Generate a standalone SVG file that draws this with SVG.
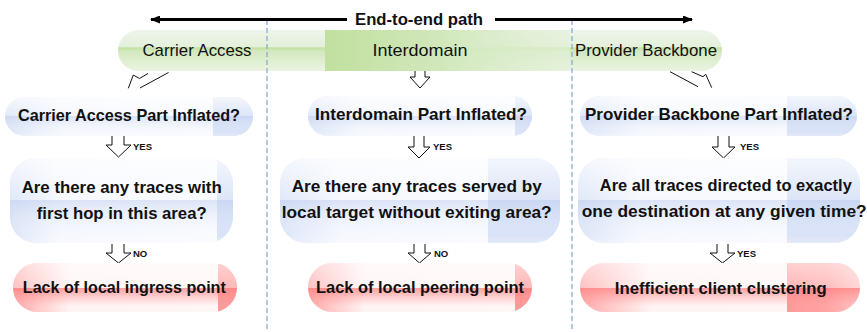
<svg xmlns="http://www.w3.org/2000/svg" width="867" height="332" viewBox="0 0 867 332">
<style>
text{font-family:"Liberation Sans",Arial,sans-serif;fill:#111;text-anchor:middle}
.b{font-weight:bold;font-size:17px}
.r{font-size:17px}
.t{font-weight:bold;font-size:16.5px}
.s{font-weight:bold;font-size:9.5px;text-anchor:start}
.arr{fill:#fff;stroke:#111;stroke-width:1}
.ln{fill:none;stroke:#111;stroke-width:1}
.sep{stroke:#7fa8d2;stroke-width:1.2;stroke-dasharray:5 3}
.blue{fill:url(#gBlueH)}
.red{fill:url(#gRedH)}
.bd{fill:#d0dcf5}
.rd{fill:#ff9a9a}
.bg{fill:url(#gBlueV)}
.rg{fill:url(#gRedV)}
</style>
<defs>
<linearGradient id="gBlueH" x1="0" y1="0" x2="1" y2="0">
<stop offset="0" stop-color="#d5e0f6"/><stop offset="0.22" stop-color="#f3f6fd"/><stop offset="1" stop-color="#f8faff"/>
</linearGradient>
<linearGradient id="gBlueV" x1="0" y1="0" x2="0" y2="1">
<stop offset="0" stop-color="#fff" stop-opacity="0.75"/><stop offset="0.5" stop-color="#fff" stop-opacity="0.25"/>
<stop offset="0.5" stop-color="#c6d4f1" stop-opacity="0.55"/><stop offset="0.9" stop-color="#fff" stop-opacity="0.2"/><stop offset="1" stop-color="#fff" stop-opacity="0.4"/>
</linearGradient>
<linearGradient id="gRedH" x1="0" y1="0" x2="1" y2="0">
<stop offset="0" stop-color="#ffa8a8"/><stop offset="0.25" stop-color="#fff3f3"/><stop offset="1" stop-color="#fff6f6"/>
</linearGradient>
<linearGradient id="gRedV" x1="0" y1="0" x2="0" y2="1">
<stop offset="0" stop-color="#fff" stop-opacity="0.55"/><stop offset="0.5" stop-color="#fff" stop-opacity="0.3"/>
<stop offset="0.5" stop-color="#ff7f7f" stop-opacity="0.75"/><stop offset="0.88" stop-color="#ff9a9a" stop-opacity="0"/><stop offset="1" stop-color="#fff" stop-opacity="0"/>
</linearGradient>
<linearGradient id="gBarV" x1="0" y1="0" x2="0" y2="1">
<stop offset="0" stop-color="#eef5ea"/><stop offset="0.42" stop-color="#e3f0da"/><stop offset="0.43" stop-color="#c2e1a1"/>
<stop offset="0.52" stop-color="#d3e9bf"/><stop offset="1" stop-color="#ebf4e3"/>
</linearGradient>
<linearGradient id="gBarMid" x1="0" y1="0" x2="1" y2="0">
<stop offset="0" stop-color="#c1e09e"/><stop offset="0.5" stop-color="#d2e8bd"/><stop offset="1" stop-color="#e4f1da" stop-opacity="0.6"/>
</linearGradient>
<linearGradient id="gR3" x1="0" y1="0" x2="1" y2="0">
<stop offset="0" stop-color="#ff9a9a"/><stop offset="0.55" stop-color="#ffa3a3"/><stop offset="1" stop-color="#ffc4c4"/>
</linearGradient>
<marker id="ah" viewBox="0 0 10 8" refX="9" refY="4" markerWidth="10" markerHeight="8" markerUnits="userSpaceOnUse" orient="auto">
<path d="M0,0 L10,4 L0,8 Z" fill="#000"/>
</marker>
<clipPath id="cA1"><rect x="5" y="97" width="248" height="39" rx="19.5"/></clipPath>
<clipPath id="cA2"><rect x="308" y="96" width="224" height="40" rx="20"/></clipPath>
<clipPath id="cA3"><rect x="580" y="96" width="277" height="40" rx="20"/></clipPath>
<clipPath id="cQ1"><rect x="10" y="158" width="223" height="85" rx="26"/></clipPath>
<clipPath id="cQ2"><rect x="280" y="158" width="280" height="85" rx="26"/></clipPath>
<clipPath id="cQ3"><rect x="578" y="158" width="282" height="85" rx="26"/></clipPath>
<clipPath id="cR1"><rect x="13" y="263" width="224" height="49" rx="24.5"/></clipPath>
<clipPath id="cR2"><rect x="308" y="263" width="224" height="49" rx="24.5"/></clipPath>
<clipPath id="cR3"><rect x="580" y="263" width="280" height="49" rx="24.5"/></clipPath>
</defs>

<g id="path-bar">
<rect x="118" y="30" width="604" height="41" rx="20.5" fill="url(#gBarV)"/>
<rect x="325" y="30" width="245" height="41" fill="url(#gBarMid)"/>
<text class="r" x="197" y="56" textLength="109" lengthAdjust="spacingAndGlyphs">Carrier Access</text>
<text class="r" x="420" y="56" textLength="95" lengthAdjust="spacingAndGlyphs">Interdomain</text>
<text class="r" x="646" y="56" textLength="142" lengthAdjust="spacingAndGlyphs">Provider Backbone</text>
</g>

<g id="separators">
<line class="sep" x1="267" y1="20" x2="267" y2="332"/>
<line class="sep" x1="572" y1="20" x2="572" y2="332"/>
</g>

<g id="title">
<text class="t" x="419" y="25" textLength="128" lengthAdjust="spacingAndGlyphs">End-to-end path</text>
</g>

<g id="connectors">
<line x1="347" y1="19.5" x2="151" y2="19.5" stroke="#000" stroke-width="3.2" marker-end="url(#ah)"/>
<line x1="495" y1="19.5" x2="692" y2="19.5" stroke="#000" stroke-width="3.2" marker-end="url(#ah)"/>
<polyline class="ln" points="148,73.5 139.5,78.5 133.3,75 128.3,88.3"/>
<line class="ln" x1="168.5" y1="72.5" x2="140" y2="88"/>
<polyline class="ln" points="691.7,71.7 703,76.7 705.7,74.3 711.7,87.7"/>
<line class="ln" x1="670" y1="71.7" x2="698" y2="86.7"/>
<polyline class="arr" points="415,71 415,77 410,77 420,88 430,77 425,77 425,71"/>
<polyline class="arr" points="112,136 112,145 106,145 118.5,157 131,145 124,145 124,136"/>
<polyline class="arr" points="112,244 112,253 106,253 118.5,263 131,253 124,253 124,244"/>
<polyline class="arr" points="414,136 414,147 408,147 419,158 430,147 424,147 424,136"/>
<polyline class="arr" points="414,244 414,253 408,253 419.5,263 431,253 425,253 425,244"/>
<polyline class="arr" points="718,136 718,147 712,147 723.5,158 735,147 729,147 729,136"/>
<polyline class="arr" points="717,244 717,253 710,253 722.5,263 735,253 728,253 728,244"/>
<text class="s" x="133" y="150">YES</text>
<text class="s" x="433" y="150">YES</text>
<text class="s" x="740" y="150">YES</text>
<text class="s" x="133" y="257">NO</text>
<text class="s" x="434" y="257">NO</text>
<text class="s" x="737" y="257">YES</text>
</g>

<g id="n-a1">
<rect class="blue" x="5" y="97" width="248" height="39" rx="19.5"/>
<rect class="bd" clip-path="url(#cA1)" x="213" y="97" width="40" height="39"/>
<rect class="bg" x="5" y="97" width="248" height="39" rx="19.5"/>
<text class="b" x="129" y="121" textLength="222" lengthAdjust="spacingAndGlyphs">Carrier Access Part Inflated?</text>
</g>
<g id="n-a2">
<rect class="blue" x="308" y="96" width="224" height="40" rx="20"/>
<rect class="bd" clip-path="url(#cA2)" x="515" y="96" width="17" height="40"/>
<rect class="bg" x="308" y="96" width="224" height="40" rx="20"/>
<text class="b" x="421" y="120" textLength="212" lengthAdjust="spacingAndGlyphs">Interdomain Part Inflated?</text>
</g>
<g id="n-a3">
<rect class="blue" x="580" y="96" width="277" height="40" rx="20"/>
<rect class="bd" clip-path="url(#cA3)" x="787" y="96" width="70" height="40"/>
<rect class="bg" x="580" y="96" width="277" height="40" rx="20"/>
<text class="b" x="719" y="120" textLength="268" lengthAdjust="spacingAndGlyphs">Provider Backbone Part Inflated?</text>
</g>

<g id="n-q1">
<rect class="blue" x="10" y="158" width="223" height="85" rx="26"/>
<rect class="bd" clip-path="url(#cQ1)" x="217" y="158" width="16" height="85"/>
<rect class="bg" x="10" y="158" width="223" height="85" rx="26"/>
<text class="b" x="121.7" y="193" textLength="200" lengthAdjust="spacingAndGlyphs">Are there any traces with</text>
<text class="b" x="121.7" y="219" textLength="170" lengthAdjust="spacingAndGlyphs">first hop in this area?</text>
</g>
<g id="n-q2">
<rect class="blue" x="280" y="158" width="280" height="85" rx="26"/>
<rect class="bd" clip-path="url(#cQ2)" x="488" y="158" width="72" height="85"/>
<rect class="bg" x="280" y="158" width="280" height="85" rx="26"/>
<text class="b" x="416.7" y="192" textLength="250" lengthAdjust="spacingAndGlyphs">Are there any traces served by</text>
<text class="b" x="416.7" y="218" textLength="270" lengthAdjust="spacingAndGlyphs">local target without exiting area?</text>
</g>
<g id="n-q3">
<rect class="blue" x="578" y="158" width="282" height="85" rx="26"/>
<rect class="bd" clip-path="url(#cQ3)" x="787" y="158" width="73" height="85"/>
<rect class="bg" x="578" y="158" width="282" height="85" rx="26"/>
<text class="b" x="725.8" y="191" textLength="252" lengthAdjust="spacingAndGlyphs">Are all traces directed to exactly</text>
<text class="b" x="724.2" y="217" textLength="285" lengthAdjust="spacingAndGlyphs">one destination at any given time?</text>
</g>

<g id="n-r1">
<rect class="red" x="13" y="263" width="224" height="49" rx="24.5"/>
<rect class="rd" clip-path="url(#cR1)" x="218" y="263" width="19" height="49"/>
<rect class="rg" x="13" y="263" width="224" height="49" rx="24.5"/>
<text class="b" x="124.3" y="293" textLength="203" lengthAdjust="spacingAndGlyphs">Lack of local ingress point</text>
</g>
<g id="n-r2">
<rect class="red" x="308" y="263" width="224" height="49" rx="24.5"/>
<rect class="rd" clip-path="url(#cR2)" x="515" y="263" width="17" height="49"/>
<rect class="rg" x="308" y="263" width="224" height="49" rx="24.5"/>
<text class="b" x="420" y="293" textLength="208" lengthAdjust="spacingAndGlyphs">Lack of local peering point</text>
</g>
<g id="n-r3">
<rect class="red" x="580" y="263" width="280" height="49" rx="24.5"/>
<rect clip-path="url(#cR3)" x="787" y="263" width="73" height="49" fill="url(#gR3)"/>
<rect class="rg" x="580" y="263" width="280" height="49" rx="24.5"/>
<text class="b" x="720.8" y="294" textLength="212" lengthAdjust="spacingAndGlyphs">Inefficient client clustering</text>
</g>
</svg>
